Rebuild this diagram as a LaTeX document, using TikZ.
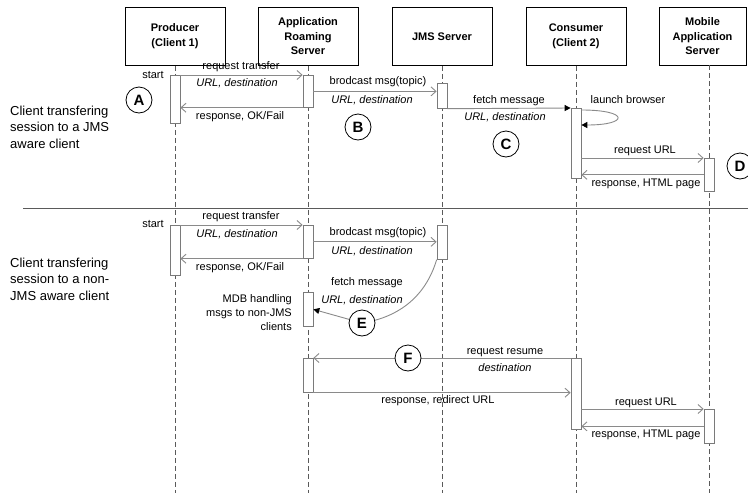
\documentclass[tikz,border=0pt]{standalone}
\usepackage{fontspec}
\setmainfont{Liberation Sans}
\usetikzlibrary{arrows.meta,calc}
\definecolor{arrgray}{HTML}{8A8A8A}
\definecolor{actgray}{HTML}{7A7A7A}
\definecolor{lifegray}{HTML}{5A5A5A}
\begin{document}
\begin{tikzpicture}[x=1pt,y=-1pt,
  hdr/.style={draw=black, line width=0.8pt, minimum width=100pt, minimum height=58pt, align=center, font=\fontsize{11}{14.5}\selectfont\bfseries, inner sep=0, anchor=north},
  life/.style={draw=lifegray, dash pattern=on 5pt off 3pt, line width=0.7pt},
  act/.style={draw=actgray, fill=white, line width=0.7pt, minimum width=10pt, inner sep=0, anchor=north},
  msg/.style={draw=arrgray, line width=0.9pt, -{Straight Barb[length=5pt,width=9pt]}},
  fmsg/.style={draw=arrgray, line width=0.9pt, -{Triangle[length=6pt,width=6pt,color=black]}},
  lbl/.style={font=\fontsize{11}{13}\selectfont, inner sep=0},
  ilbl/.style={font=\fontsize{11}{13}\selectfont\itshape, inner sep=0},
  side/.style={font=\fontsize{13}{16.5}\selectfont, align=left, inner sep=0, anchor=west},
  circmark/.style={circle, draw=black, line width=0.8pt, fill=white, minimum size=26pt, inner sep=0, font=\fontsize{15}{15}\selectfont\bfseries}
]
\useasboundingbox (0,0) rectangle (748,493);
\clip (0,0) rectangle (748,493);

% header boxes
\node[hdr] (hP) at (175,7) {Producer\\(Client 1)};
\node[hdr] (hR) at (308,7) {Application\\Roaming\\Server};
\node[hdr] (hJ) at (442,7) {JMS Server};
\node[hdr] (hC) at (576,7) {Consumer\\(Client 2)};
\node[hdr, minimum width=87pt] (hM) at (702.5,7) {Mobile\\Application\\Server};

% lifelines
\coordinate (mtop) at (709,65);
\coordinate (bot) at (0,493);
\draw[life] (hP.south) -- (hP.south |- bot);
\draw[life] (hR.south) -- (hR.south |- bot);
\draw[life] (hJ.south) -- (hJ.south |- bot);
\draw[life] (hC.south) -- (hC.south |- bot);
\draw[life] (mtop) -- (mtop |- bot);

% separator
\coordinate (sepL) at (23,208);
\coordinate (sepR) at (748,208);
\draw[draw=lifegray, line width=0.9pt] (sepL) -- (sepR);

% side texts
\node[side] (s1) at (10,127) {Client transfering\\session to a JMS\\aware client};
\node[side] (s2) at (10,279) {Client transfering\\session to a non-\\JMS aware client};

% ===== top section =====
\node[act, minimum height=48pt] (pa1) at (175,75) {};
\node[act, minimum height=32pt] (ra1) at (308,75) {};
\node[act, minimum height=25pt] (ja1) at (442,83) {};
\node[act, minimum height=70pt] (ca1) at (576,108) {};
\node[act, minimum height=33pt] (ma1) at (709,158) {};

\node[lbl] (st1) at (153,75) {start};
\draw[msg] (pa1.north east) -- (ra1.north west);
\node[lbl] (l1) at (241,67) {request transfer};
\node[ilbl] (l2) at (237,83) {URL, destination};
\draw[msg] (ra1.south west) -- (pa1.east |- ra1.south west);
\node[lbl] (l3) at (240,117) {response, OK/Fail};

\draw[msg] (ra1.east) -- (ja1.west |- ra1.east);
\node[lbl] (l4) at (378,82) {brodcast msg(topic)};
\node[ilbl] (l5) at (372,100) {URL, destination};

\draw[fmsg] (ja1.south east) -- (ca1.north west);
\node[lbl] (l6) at (509,101) {fetch message};
\node[ilbl] (l7) at (505,117) {URL, destination};

\draw[fmsg] ($(ca1.north east)+(0,2)$) .. controls +(48,0) and +(48,0) .. ($(ca1.north east)+(0,17)$);
\node[lbl] (l8) at (628,100) {launch browser};

\draw[msg] (ca1.east |- ma1.north west) -- (ma1.north west);
\node[lbl] (l9) at (645,151) {request URL};
\draw[msg] (ma1.west) -- (ca1.east |- ma1.west);
\node[lbl] (l10) at (646,184) {response, HTML page};

\node[circmark] (A) at (139,100) {A};
\node[circmark] (B) at (358,127) {B};
\node[circmark] (C) at (506,144) {C};
\node[circmark] (D) at (740,166) {D};

% ===== bottom section =====
\node[act, minimum height=50pt] (pa2) at (175,225) {};
\node[act, minimum height=33pt] (ra2) at (308,225) {};
\node[act, minimum height=34pt] (ja2) at (442,225) {};
\node[act, minimum height=34pt] (mdb) at (308,292) {};
\node[act, minimum height=34pt] (ra3) at (308,358) {};
\node[act, minimum height=71pt] (ca3) at (576,358) {};
\node[act, minimum height=34pt] (ma2) at (709,409) {};

\node[lbl] (st2) at (153,224) {start};
\draw[msg] (pa2.north east) -- (ra2.north west);
\node[lbl] (m1) at (241,217) {request transfer};
\node[ilbl] (m2) at (237,234) {URL, destination};
\draw[msg] (ra2.south west) -- (pa2.east |- ra2.south west);
\node[lbl] (m3) at (240,268) {response, OK/Fail};

\draw[msg] (ra2.east) -- (ja2.west |- ra2.east);
\node[lbl] (m4) at (378,233) {brodcast msg(topic)};
\node[ilbl] (m5) at (372,251) {URL, destination};

\coordinate (Epos) at (362,323);
\draw[draw=arrgray, line width=0.9pt] (ja2.south west) .. controls +(-12,40) and (395,318) .. (Epos);
\draw[fmsg] (Epos) -- (mdb.east);
\node[lbl] (m6) at (367,283) {fetch message};
\node[ilbl] (m7) at (362,300) {URL, destination};
\node[lbl, align=right, anchor=east, font=\fontsize{11}{14}\selectfont] (mdbt) at (292,313) {MDB handling\\msgs to non-JMS\\clients};
\node[circmark] (E) at (Epos) {E};

\draw[msg] (ca3.north west) -- (ra3.north east);
\node[circmark] (F) at (408,358) {F};
\node[lbl] (m8) at (505,352) {request resume};
\node[ilbl] (m9) at (505,368) {destination};

\draw[msg] (ra3.south east) -- (ca3.west |- ra3.south east);
\node[lbl] (m10) at (438,401) {response, redirect URL};

\draw[msg] (ca3.east |- ma2.north west) -- (ma2.north west);
\node[lbl] (m11) at (646,403) {request URL};
\draw[msg] (ma2.west) -- (ca3.east |- ma2.west);
\node[lbl] (m12) at (646,435) {response, HTML page};
\end{tikzpicture}
\end{document}
